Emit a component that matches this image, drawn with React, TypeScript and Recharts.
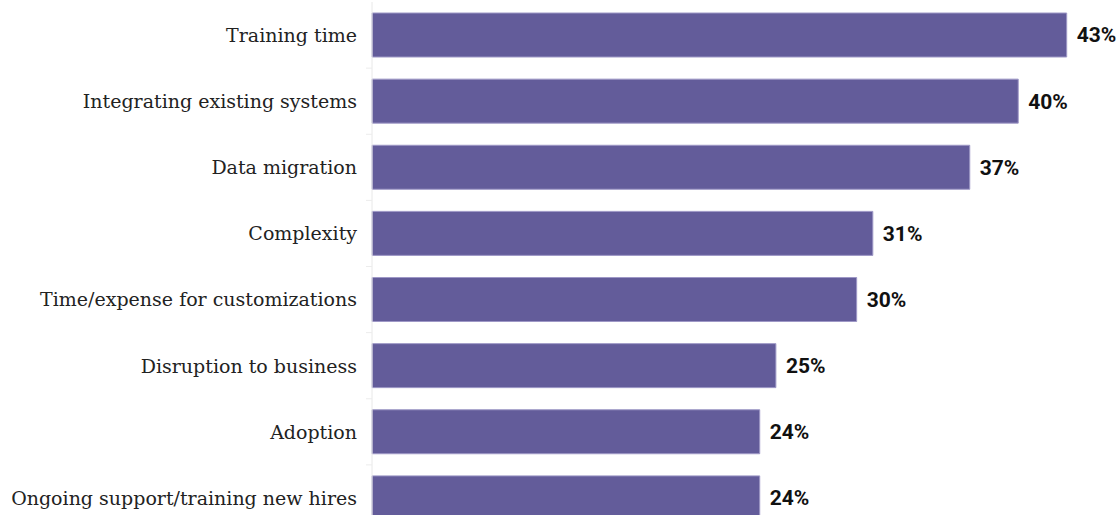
import React from "react";
import { BarChart, Bar, XAxis, YAxis, LabelList } from "recharts";

const categories = [
  "Training time",
  "Integrating existing systems",
  "Data migration",
  "Complexity",
  "Time/expense for customizations",
  "Disruption to business",
  "Adoption",
  "Ongoing support/training new hires",
];
const values = [43, 40, 37, 31, 30, 25, 24, 24];

const data = categories.map((name, i) => ({ name, value: values[i] }));

const CHART_H = 531;
const M_TOP = 2;
const M_BOTTOM = 0;
const BAND = (CHART_H - M_TOP - M_BOTTOM) / categories.length;
const TICK_MARGIN = 15;

const CategoryTick = (props: any) => {
  const { x, y, payload } = props;
  const ax = x + TICK_MARGIN;
  return (
    <g>
      <line x1={ax - 6} x2={ax} y1={y + BAND / 2} y2={y + BAND / 2} stroke="#ececec" strokeWidth={1} />
      <text
        x={x}
        y={y}
        dy="0.36em"
        textAnchor="end"
        fill="#222222"
        style={{ fontFamily: "'DejaVu Serif', serif", fontSize: 19 }}
      >
        {payload.value}
      </text>
    </g>
  );
};

export default function App() {
  return (
    <div style={{ position: "absolute", top: 0, left: 0, width: 1118, height: 515, overflow: "hidden", background: "#ffffff" }}>
      <BarChart
        layout="vertical"
        width={1118}
        height={CHART_H}
        data={data}
        margin={{ top: M_TOP, right: 19, bottom: M_BOTTOM, left: 0 }}
      >
        <XAxis type="number" domain={[0, 45]} hide />
        <YAxis
          type="category"
          dataKey="name"
          width={372}
          axisLine={{ stroke: "#e8e8e8" }}
          tickLine={false}
          tickSize={0}
          tickMargin={TICK_MARGIN}
          tick={<CategoryTick />}
          interval={0}
        />
        <Bar dataKey="value" fill="#635C9A" stroke="#9e98c6" strokeWidth={1} barSize={44} isAnimationActive={false}>
          <LabelList
            dataKey="value"
            position="right"
            offset={10}
            formatter={(v: any) => `${v}%`}
            style={{ fontFamily: "Roboto, sans-serif", fontWeight: 700, fontSize: 21, fill: "#111111" }}
          />
        </Bar>
      </BarChart>
    </div>
  );
}
